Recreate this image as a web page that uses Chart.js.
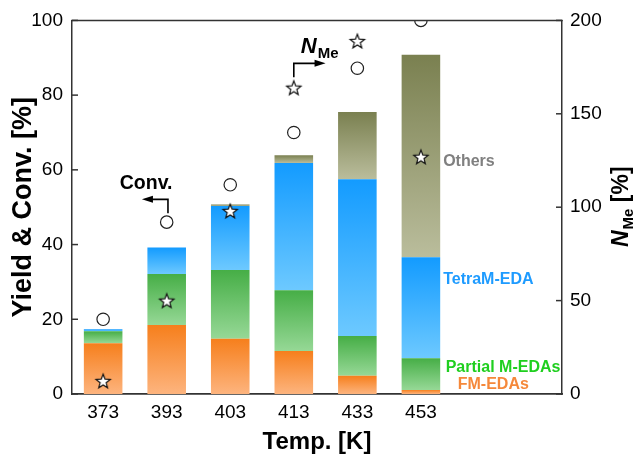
<!DOCTYPE html>
<html><head><meta charset="utf-8">
<script src="https://cdn.jsdelivr.net/npm/chart.js@4.4.1/dist/chart.umd.min.js"></script>
<style>html,body{margin:0;padding:0;background:#fff}#wrap{width:637px;height:454px;position:relative}</style>
</head><body><div id="wrap"><canvas id="c"></canvas></div>
<script>
// ---- data ----
const temperatures = ['373', '393', '403', '413', '433', '453'];
const fmEDAs       = [13.6, 18.5, 14.8, 11.5, 4.9, 1.1];
const partialMEDAs = [3.2, 13.6, 18.4, 16.3, 10.6, 8.5];
const tetraMEDA    = [0.5, 7.1, 17.1, 34.0, 42.0, 27.0];
const others       = [0, 0, 0.4, 2.1, 18.0, 54.2];
const conversion   = [20, 46, 56, 70, 87.2, 100];
const nMe          = [7, 50, 98, 164, 189, 127];
const leftTicks  = [0, 20, 40, 60, 80, 100];
const rightTicks = [0, 50, 100, 150, 200];

const FONT = "'Liberation Sans', Arial, sans-serif";
const segs = [fmEDAs, partialMEDAs, tetraMEDA, others];

function grad(top, bottom, dsIndex) {
  return (ctx) => {
    const chart = ctx.chart, y = chart.scales.y;
    if (!y || ctx.type !== 'data') return top;
    const i = ctx.dataIndex;
    let base = 0;
    for (let k = 0; k < dsIndex; k++) base += segs[k][i];
    const t = base + segs[dsIndex][i];
    const p0 = y.getPixelForValue(t), p1 = y.getPixelForValue(base);
    if (!isFinite(p0) || !isFinite(p1) || Math.abs(p1 - p0) < 0.5) return top;
    const g = chart.ctx.createLinearGradient(0, p0, 0, p1);
    g.addColorStop(0, top);
    g.addColorStop(1, bottom);
    return g;
  };
}

function makeStar() {
  const s = 20, c = document.createElement('canvas');
  c.width = s; c.height = s;
  const g = c.getContext('2d');
  const R = 7.5, r = 3.2;
  g.beginPath();
  for (let k = 0; k < 10; k++) {
    const a = -Math.PI / 2 + k * Math.PI / 5;
    const rad = k % 2 ? r : R;
    g.lineTo(s / 2 + rad * Math.cos(a), s / 2 + rad * Math.sin(a) + 0.8);
  }
  g.closePath();
  g.fillStyle = '#fff'; g.fill();
  g.lineWidth = 1.2; g.strokeStyle = '#111'; g.stroke();
  return c;
}
const starImg = makeStar();

const pts = (arr) => arr.map((v, i) => ({ x: i, y: v }));

function barDs(label, arr, idx, top, bottom) {
  return {
    type: 'bar', label, data: pts(arr), order: 2,
    backgroundColor: grad(top, bottom, idx), borderWidth: 0,
    categoryPercentage: 0.607, barPercentage: 1, xAxisID: 'x', yAxisID: 'y'
  };
}

const decor = {
  id: 'decor',
  afterDraw(chart) {
    const { ctx, chartArea: a, scales } = chart;
    const xs = scales.x, ys = scales.y, y2 = scales.y2;
    const X = v => xs.getPixelForValue(v), Y = v => ys.getPixelForValue(v);
    ctx.save();
    ctx.strokeStyle = '#333'; ctx.lineWidth = 1.5;
    // top frame
    ctx.beginPath(); ctx.moveTo(a.left - 0.75, a.top); ctx.lineTo(a.right + 0.75, a.top); ctx.stroke();
    // inner ticks
    leftTicks.forEach(v => { const p = ys.getPixelForValue(v); ctx.beginPath(); ctx.moveTo(a.left, p); ctx.lineTo(a.left + 6, p); ctx.stroke(); });
    rightTicks.forEach(v => { const p = y2.getPixelForValue(v); ctx.beginPath(); ctx.moveTo(a.right, p); ctx.lineTo(a.right - 6, p); ctx.stroke(); });

    // right axis title  N_Me [%]
    ctx.fillStyle = '#000';
    ctx.translate(628, (a.top + a.bottom) / 2);
    ctx.rotate(-Math.PI / 2);
    ctx.textBaseline = 'alphabetic'; ctx.textAlign = 'left';
    const f1 = `italic bold 23px ${FONT}`, f2 = `bold 15px ${FONT}`, f3 = `bold 23px ${FONT}`;
    ctx.font = f1; const w1 = ctx.measureText('N').width;
    ctx.font = f2; const w2 = ctx.measureText('Me').width;
    ctx.font = f3; const w3 = ctx.measureText(' [%]').width;
    let sx = -(w1 + w2 + w3) / 2;
    ctx.font = f1; ctx.fillText('N', sx, 0); sx += w1 + 1;
    ctx.font = f2; ctx.fillText('Me', sx, 5); sx += w2;
    ctx.font = f3; ctx.fillText(' [%]', sx, 0);
    ctx.setTransform(1, 0, 0, 1, 0, 0);
    ctx.restore();

    ctx.save();
    // Conv. annotation
    ctx.fillStyle = '#000'; ctx.textAlign = 'center'; ctx.textBaseline = 'middle';
    ctx.font = `bold 19.5px ${FONT}`;
    ctx.fillText('Conv.', X(0.676), Y(56.4));
    ctx.strokeStyle = '#000'; ctx.lineWidth = 1.6;
    ctx.beginPath(); ctx.moveTo(X(1.02), Y(48.4)); ctx.lineTo(X(1.02), Y(52.1)); ctx.lineTo(X(0.74), Y(52.1)); ctx.stroke();
    arrowHead(ctx, X(0.61), Y(52.1), -1);

    // N_Me annotation
    ctx.textAlign = 'left'; ctx.textBaseline = 'alphabetic';
    ctx.font = `italic bold 22px ${FONT}`;
    const nx = X(3.11), ny = Y(91.3);
    ctx.fillText('N', nx, ny);
    const nw = ctx.measureText('N').width;
    ctx.font = `bold 15px ${FONT}`;
    ctx.fillText('Me', nx + nw + 1, ny + 5);
    ctx.beginPath(); ctx.moveTo(X(3.0), Y(84.8)); ctx.lineTo(X(3.0), Y(88.5)); ctx.lineTo(X(3.37), Y(88.5)); ctx.stroke();
    arrowHead(ctx, X(3.5), Y(88.5), 1);

    // series labels
    ctx.font = `bold 16px ${FONT}`; ctx.textBaseline = 'middle';
    ctx.fillStyle = '#808080'; ctx.fillText('Others', X(5.35), Y(62.3));
    ctx.fillStyle = '#1e9bff'; ctx.fillText('TetraM-EDA', X(5.35), Y(30.5));
    ctx.fillStyle = '#1fcf1f'; ctx.fillText('Partial M-EDAs', X(5.39), Y(7.0));
    ctx.fillStyle = '#f5883a'; ctx.fillText('FM-EDAs', X(5.58), Y(2.4));
    ctx.restore();
  }
};
function arrowHead(ctx, x, y, dir) {
  ctx.beginPath();
  ctx.moveTo(x, y);
  ctx.lineTo(x - dir * 11, y - 3.5);
  ctx.lineTo(x - dir * 11, y + 3.5);
  ctx.closePath();
  ctx.fillStyle = '#000'; ctx.fill();
}

new Chart(document.getElementById('c'), {
  type: 'bar',
  data: {
    datasets: [
      barDs('FM-EDAs', fmEDAs, 0, '#f67f1c', '#fdb47e'),
      barDs('Partial M-EDAs', partialMEDAs, 1, '#46ae46', '#96d896'),
      barDs('TetraM-EDA', tetraMEDA, 2, '#139bff', '#6dc9ff'),
      barDs('Others', others, 3, '#7a8050', '#babd9c'),
      { type: 'line', label: 'Conv.', data: pts(conversion), showLine: false, order: 1, clip: 0,
        pointStyle: 'circle', pointRadius: 6.2, pointBackgroundColor: '#fff', pointBorderColor: '#222', pointBorderWidth: 1.2,
        xAxisID: 'x', yAxisID: 'y' },
      { type: 'line', label: 'N_Me', data: pts(nMe), showLine: false, order: 0,
        pointStyle: starImg, pointRadius: 8, xAxisID: 'x', yAxisID: 'y2' }
    ]
  },
  options: {
    responsive: true, maintainAspectRatio: false, animation: false,
    layout: { padding: { top: 20, left: 0, right: 0, bottom: 0 } },
    plugins: { legend: { display: false }, tooltip: { enabled: false } },
    scales: {
      x: {
        type: 'linear', min: -0.49, max: 7.22, stacked: true, offset: false,
        afterBuildTicks: s => { s.ticks = temperatures.map((_, i) => ({ value: i })); },
        ticks: { callback: v => temperatures[v] ?? '', font: { family: FONT, size: 19 }, color: '#000', padding: 7, autoSkip: false, maxRotation: 0 },
        grid: { display: false, drawTicks: false },
        border: { display: true, color: '#333', width: 1.8 },
        title: { display: true, text: 'Temp. [K]', color: '#000', font: { family: FONT, size: 24, weight: 'bold', lineHeight: 1 }, padding: { top: 0, bottom: 0 } },
        afterFit: s => { s.height = 60; }
      },
      y: {
        position: 'left', min: 0, max: 100, stacked: true,
        afterBuildTicks: s => { s.ticks = leftTicks.map(v => ({ value: v })); },
        ticks: { font: { family: FONT, size: 19 }, color: '#000', padding: 9 },
        grid: { display: false, drawTicks: false },
        border: { display: true, color: '#333', width: 1.5 },
        title: { display: true, text: 'Yield & Conv. [%]', color: '#000', font: { family: FONT, size: 27, weight: 'bold', lineHeight: 1 }, padding: { top: 10, bottom: 0 } },
        afterFit: s => { s.width = 72; }
      },
      y2: {
        position: 'right', min: 0, max: 200,
        afterBuildTicks: s => { s.ticks = rightTicks.map(v => ({ value: v })); },
        ticks: { font: { family: FONT, size: 19 }, color: '#000', padding: 8 },
        grid: { display: false, drawTicks: false },
        border: { display: true, color: '#333', width: 1.5 },
        afterFit: s => { s.width = 75; }
      }
    }
  },
  plugins: [decor]
});
</script>
</body></html>
